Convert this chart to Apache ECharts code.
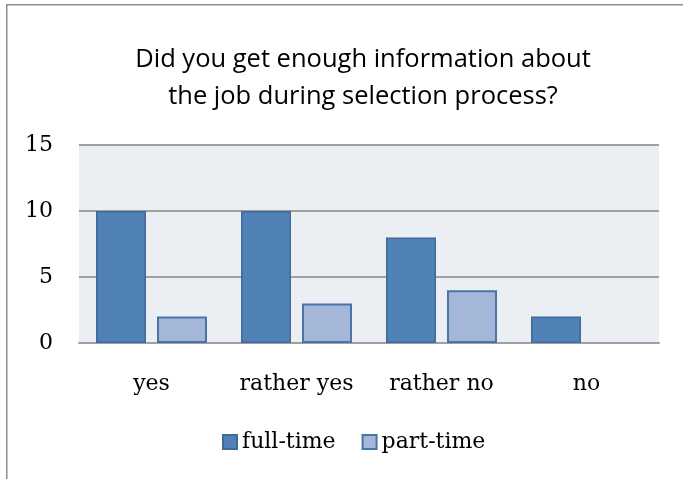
<!DOCTYPE html>
<html>
<head>
<meta charset="utf-8">
<script src="https://cdn.jsdelivr.net/npm/echarts@6/dist/echarts.min.js"></script>
<style>html,body{margin:0;padding:0;background:#fff;}#c{width:683px;height:479px;}</style>
</head>
<body>
<div id="c"></div>
<script>
var categories = ['yes', 'rather yes', 'rather no', 'no'];
var fullTime = [10, 10, 8, 2];
var partTime = [2, 3, 4, 0];
var yTicks = {min: 0, max: 15, interval: 5};
var titleText = 'Did you get enough information about\nthe job during selection process?';

var chart = echarts.init(document.getElementById('c'), null, {renderer: 'canvas'});
var serif = 'DejaVu Serif';
function toData(arr) {
  return arr.map(function (v) { return v === 0 ? {value: v, itemStyle: {borderWidth: 0, opacity: 0}} : v; });
}
chart.setOption({
  animation: false,
  backgroundColor: '#ffffff',
  graphic: [{
    type: 'rect', left: 6, top: 4, z: -10,
    shape: {x: 0, y: 0, width: 900, height: 700},
    style: {fill: '#ffffff', stroke: '#8e8e8e', lineWidth: 1.5}
  }],
  title: {
    text: titleText,
    left: 358, top: 36, textAlign: 'center',
    textStyle: {fontFamily: 'Open Sans', fontWeight: 'normal', fontSize: 25.5, lineHeight: 37, color: '#000'}
  },
  grid: {left: 79, right: 24, top: 145, bottom: 136, show: true, backgroundColor: '#EBEEF3', borderWidth: 0},
  legend: {
    left: 217, top: 426, icon: 'rect', itemWidth: 14, itemHeight: 14, itemGap: 26,
    textStyle: {fontFamily: serif, fontSize: 22, color: '#000'},
    data: ['full-time', 'part-time']
  },
  xAxis: {
    type: 'category', data: categories,
    axisLine: {show: true, lineStyle: {color: '#a0a0a0', width: 2}},
    axisTick: {show: false},
    axisLabel: {fontFamily: serif, fontSize: 22, color: '#000', margin: 30, interval: 0}
  },
  yAxis: {
    type: 'value', min: yTicks.min, max: yTicks.max, interval: yTicks.interval,
    axisLine: {show: false}, axisTick: {show: false},
    splitLine: {lineStyle: {color: '#a0a0a0', width: 2}},
    axisLabel: {fontFamily: serif, fontSize: 22, color: '#000', margin: 26}
  },
  series: [
    {name: 'full-time', type: 'bar', data: toData(fullTime), barWidth: 50, barGap: '22%',
     itemStyle: {color: '#5082B8', borderColor: '#41699A', borderWidth: 1.5}},
    {name: 'part-time', type: 'bar', data: toData(partTime), barWidth: 50,
     itemStyle: {color: '#A4B7D9', borderColor: '#4A74A8', borderWidth: 2}}
  ]
});
</script>
</body>
</html>
